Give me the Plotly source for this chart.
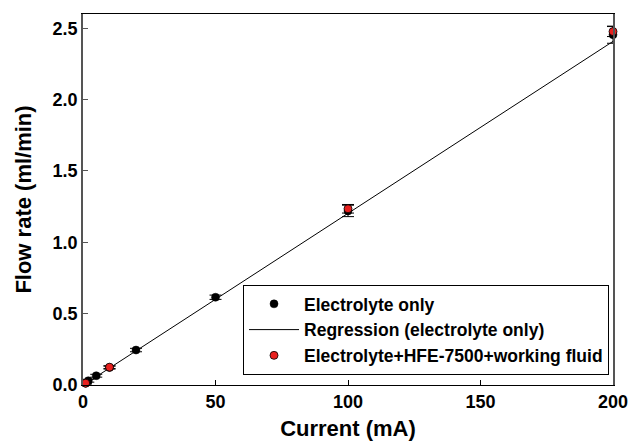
import plotly.graph_objects as go

# Data
elec_x = [1, 2, 5, 10, 20, 50, 100, 200]
elec_y = [0.012, 0.03, 0.065, 0.122, 0.245, 0.615, 1.22, 2.455]
elec_err = [0.005, 0.01, 0.01, 0.01, 0.012, 0.015, 0.04, 0.06]

hfe_x = [1, 10, 100, 200]
hfe_y = [0.013, 0.125, 1.235, 2.477]
hfe_err = [0.005, 0.01, 0.03, 0.035]

reg_slope = 0.01205
reg_intercept = -0.002
reg_x = [0, 200]
reg_y = [reg_intercept + reg_slope * v for v in reg_x]

x_ticks = [0, 50, 100, 150, 200]
y_ticks = [0.0, 0.5, 1.0, 1.5, 2.0, 2.5]

FONT = "Arial, Liberation Sans, sans-serif"

fig = go.Figure()
fig.add_trace(go.Scatter(
    x=reg_x, y=reg_y, mode="lines", name="Regression (electrolyte only)",
    line=dict(color="black", width=1), legendrank=2, cliponaxis=False))
fig.add_trace(go.Scatter(
    x=elec_x, y=elec_y, mode="markers", name="Electrolyte only",
    marker=dict(color="black", size=8, line=dict(color="black", width=0.5)),
    error_y=dict(type="data", array=elec_err, color="black", thickness=1, width=6),
    legendrank=1, cliponaxis=False))
fig.add_trace(go.Scatter(
    x=hfe_x, y=hfe_y, mode="markers", name="Electrolyte+HFE-7500+working fluid",
    marker=dict(color="#e8201e", size=8, line=dict(color="black", width=0.8)),
    error_y=dict(type="data", array=hfe_err, color="black", thickness=1, width=6),
    legendrank=3, cliponaxis=False))

fig.update_layout(
    width=630, height=444,
    margin=dict(l=83, r=17, t=14, b=59),
    paper_bgcolor="white", plot_bgcolor="white",
    font=dict(family=FONT, size=18, color="black"),
    showlegend=True,
    legend=dict(
        x=0.9925, y=0.027, xanchor="right", yanchor="bottom",
        bgcolor="white", bordercolor="black", borderwidth=1,
        font=dict(family=FONT, size=17.5, color="black", weight="bold"),
        tracegroupgap=0, itemwidth=50,
    ),
    xaxis=dict(
        range=[0, 200], tickvals=x_ticks, ticktext=[str(v) for v in x_ticks],
        ticks="inside", ticklen=5, tickcolor="black",
        showline=True, linecolor="black", linewidth=1, mirror=True,
        showgrid=False, zeroline=False, automargin=False,
        tickfont=dict(family=FONT, size=18, weight="bold"),
        title=dict(text="<b>Current (mA)</b>", font=dict(family=FONT, size=22), standoff=10),
    ),
    yaxis=dict(
        range=[0, 2.6], tickvals=y_ticks, ticktext=[f"{v:.1f}" for v in y_ticks],
        ticks="inside", ticklen=5, tickcolor="#555",
        showline=True, linecolor="#555", linewidth=1.5, mirror=True,
        showgrid=False, zeroline=False, automargin=False,
        tickfont=dict(family=FONT, size=18, weight="bold"),
        title=dict(text="<b>Flow rate (ml/min)</b>", font=dict(family=FONT, size=22), standoff=15),
    ),
)

fig.write_html(
    "out.html",
    config={"displayModeBar": False},
    post_script="document.body.style.margin='0';document.body.style.overflow='hidden';",
)
